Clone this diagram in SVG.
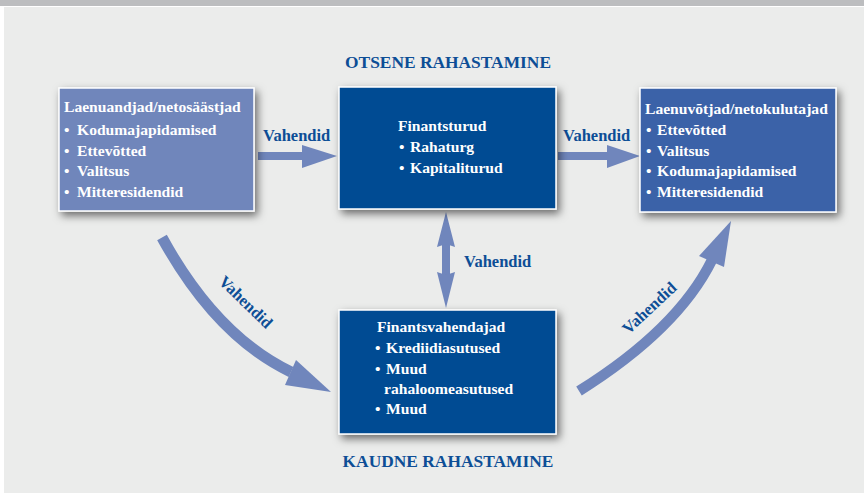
<svg xmlns="http://www.w3.org/2000/svg" width="864" height="493" viewBox="0 0 864 493">
<defs>
<filter id="sh" x="-20%" y="-20%" width="150%" height="150%">
<feDropShadow dx="3" dy="4" stdDeviation="4" flood-color="#000" flood-opacity="0.55"/>
</filter>
<style>
.bt{font-family:"Liberation Serif","Times New Roman",serif;font-weight:bold;font-size:15.6px;fill:#fff}
.lb{font-family:"Liberation Serif","Times New Roman",serif;font-weight:bold;font-size:16.5px;fill:#0d4e96}
.hd{font-family:"Liberation Serif","Times New Roman",serif;font-weight:bold;font-size:17.4px;fill:#0d4e96}
.box{stroke:#fff;stroke-width:1.5;filter:url(#sh)}
.dark{fill:#004b93}
.shaft{fill:none;stroke:#7086bc}
.head{fill:#7086bc}
</style>
</defs>
<rect x="0" y="0" width="864" height="493" fill="#ffffff"/>
<rect x="4" y="7" width="860" height="486" fill="#ebeceb"/>
<rect x="0" y="0" width="864" height="6" fill="#bcbdbf"/>
<text class="hd" x="448" y="68" text-anchor="middle">OTSENE RAHASTAMINE</text>
<text class="hd" x="448" y="467" text-anchor="middle">KAUDNE RAHASTAMINE</text>
<g id="connectors">
<path class="shaft" stroke-width="8" d="M258 156 H303"/>
<polygon class="head" points="302,145 337,156 302,168"/>
<path class="shaft" stroke-width="8" d="M558 156 H608"/>
<polygon class="head" points="607,145 640,156 607,168"/>
<path class="shaft" stroke-width="8" d="M446 240 V280"/>
<polygon class="head" points="446,212 455,247 446,244 437,247"/>
<polygon class="head" points="446,308 455,272 446,275 437,272"/>
<path class="shaft" stroke-width="11" d="M162 237.5 Q216 336 291 372"/>
<polygon class="head" points="296,360 331,392 285,385"/>
<path class="shaft" stroke-width="10.5" d="M579 391 Q678 329 712 260"/>
<polygon class="head" points="699,256 731,221 724,267"/>
<text class="lb" x="263" y="141">Vahendid</text>
<text class="lb" x="563" y="141">Vahendid</text>
<text class="lb" x="464" y="267">Vahendid</text>
<text class="lb" x="0" y="0" text-anchor="middle" transform="translate(242,306) rotate(44)">Vahendid</text>
<text class="lb" x="0" y="0" text-anchor="middle" transform="translate(653,312) rotate(-43)">Vahendid</text>
</g>
<g id="lenders">
<rect class="box" x="59" y="88" width="195" height="123" fill="#6f86bb"/>
<text class="bt" x="64" y="112">Laenuandjad/netosäästjad</text>
<text class="bt" y="135"><tspan x="64">•</tspan><tspan x="77">Kodumajapidamised</tspan></text>
<text class="bt" y="156"><tspan x="64">•</tspan><tspan x="77">Ettevõtted</tspan></text>
<text class="bt" y="176"><tspan x="64">•</tspan><tspan x="77">Valitsus</tspan></text>
<text class="bt" y="197"><tspan x="64">•</tspan><tspan x="77">Mitteresidendid</tspan></text>
</g>
<g id="markets">
<rect class="box dark" x="339" y="87" width="217" height="122"/>
<text class="bt" x="398" y="131">Finantsturud</text>
<text class="bt" y="152"><tspan x="399">•</tspan><tspan x="410">Rahaturg</tspan></text>
<text class="bt" y="173"><tspan x="399">•</tspan><tspan x="410">Kapitaliturud</tspan></text>
</g>
<g id="borrowers">
<rect class="box" x="640" y="88" width="196" height="124" fill="#3a62a8"/>
<text class="bt" x="645" y="114">Laenuvõtjad/netokulutajad</text>
<text class="bt" y="135"><tspan x="646">•</tspan><tspan x="657">Ettevõtted</tspan></text>
<text class="bt" y="156"><tspan x="646">•</tspan><tspan x="657">Valitsus</tspan></text>
<text class="bt" y="176"><tspan x="646">•</tspan><tspan x="657">Kodumajapidamised</tspan></text>
<text class="bt" y="197"><tspan x="646">•</tspan><tspan x="657">Mitteresidendid</tspan></text>
</g>
<g id="intermediaries">
<rect class="box dark" x="339" y="310" width="217" height="124"/>
<text class="bt" x="377" y="332">Finantsvahendajad</text>
<text class="bt" y="353"><tspan x="375">•</tspan><tspan x="386">Krediidiasutused</tspan></text>
<text class="bt" y="374"><tspan x="375">•</tspan><tspan x="386">Muud</tspan></text>
<text class="bt" x="384" y="394">rahaloomeasutused</text>
<text class="bt" y="414"><tspan x="375">•</tspan><tspan x="386">Muud</tspan></text>
</g>
</svg>
